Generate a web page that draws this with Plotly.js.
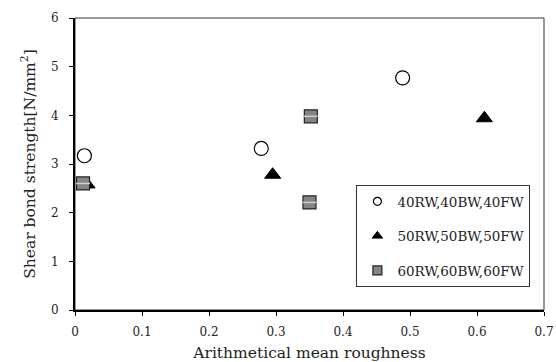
<!DOCTYPE html>
<html>
<head>
<meta charset="utf-8">
<script src="https://cdn.plot.ly/plotly-3.0.1.min.js"></script>
<style>html,body{margin:0;padding:0;background:#fff;}#chart{width:556px;height:362px;}</style>
</head>
<body>
<div id="chart"></div>
<script>
// Data
const seriesNames = ["40RW,40BW,40FW", "50RW,50BW,50FW", "60RW,60BW,60FW"];
const x40 = [0.014, 0.278, 0.489];
const y40 = [3.17, 3.32, 4.77];
const x50 = [0.018, 0.295, 0.611];
const y50 = [2.58, 2.78, 3.94];
const x60 = [0.012, 0.352, 0.350];
const y60 = [2.60, 3.98, 2.21];
const xTicks = [0, 0.1, 0.2, 0.3, 0.4, 0.5, 0.6, 0.7];
const yTicks = [0, 1, 2, 3, 4, 5, 6];

const serif = "DejaVu Serif, Liberation Serif, serif";

const styles = [
  {symbol: "circle", color: "#ffffff", line: {color: "#000", width: 1.2}, size: 14, lsize: 8},
  {symbol: "triangle-up", color: "#000000", line: {color: "#000", width: 1}, size: 14, lsize: 9},
  {symbol: "square", color: "#858585", line: {color: "#222", width: 1.2}, size: 13, lsize: 9}
];
const xs = [x40, x50, x60];
const ys = [y40, y50, y60];

const traces = [];
for (let i = 0; i < 3; i++) {
  traces.push({
    type: "scatter", mode: "markers", x: xs[i], y: ys[i], name: seriesNames[i],
    showlegend: false, hoverinfo: "skip",
    marker: {symbol: styles[i].symbol, size: styles[i].size, color: styles[i].color, line: styles[i].line}
  });
}
// light stripe on squares
traces.push({
  type: "scatter", mode: "markers", x: x60, y: y60, showlegend: false, hoverinfo: "skip",
  marker: {symbol: "line-ew-open", size: 10, color: "#cfcfcf", line: {color: "#cfcfcf", width: 1.5}}
});
// legend entries
for (let i = 0; i < 3; i++) {
  traces.push({
    type: "scatter", mode: "markers", x: [null], y: [null], name: seriesNames[i],
    legendgroup: "g" + i, showlegend: true,
    marker: {symbol: styles[i].symbol, size: styles[i].lsize, color: styles[i].color, line: styles[i].line}
  });
}

const layout = {
  width: 556, height: 362,
  margin: {l: 75, r: 12, t: 18, b: 52},
  paper_bgcolor: "#fff", plot_bgcolor: "#fff",
  font: {family: serif, size: 13, color: "#222"},
  xaxis: {
    range: [0, 0.7], tickvals: xTicks, ticktext: xTicks.map(String),
    showgrid: false, zeroline: false, showline: true, linecolor: "#000", linewidth: 2,
    ticks: "outside", ticklen: 4, tickcolor: "#000", tickwidth: 1, ticklabelstandoff: 6,
    tickfont: {family: serif, size: 12, color: "#222"},
    title: {text: "Arithmetical mean roughness", font: {family: serif, size: 15.5, color: "#222"}, standoff: 9}
  },
  yaxis: {
    range: [0, 6], tickvals: yTicks, ticktext: yTicks.map(String),
    showgrid: false, zeroline: false, showline: true, linecolor: "#000", linewidth: 2,
    ticks: "outside", ticklen: 4, tickcolor: "#000", tickwidth: 1, ticklabelstandoff: 8,
    tickfont: {family: serif, size: 12, color: "#222"},
    title: {text: "Shear bond strength[N/mm<sup>2</sup>]", font: {family: serif, size: 15.5, color: "#222"}, standoff: 12}
  },
  shapes: [{
    type: "rect", xref: "paper", yref: "paper", x0: 0, x1: 1, y0: 0, y1: 1,
    line: {color: "#333", width: 1}, layer: "below"
  }],
  legend: {
    x: 0.6, y: 0.428, xanchor: "left", yanchor: "top",
    bgcolor: "#fff", bordercolor: "#333", borderwidth: 1,
    font: {family: serif, size: 13.5, color: "#222"},
    tracegroupgap: 14, itemwidth: 30
  },
  showlegend: true
};

Plotly.newPlot("chart", traces, layout, {staticPlot: true, displayModeBar: false});
</script>
</body>
</html>
